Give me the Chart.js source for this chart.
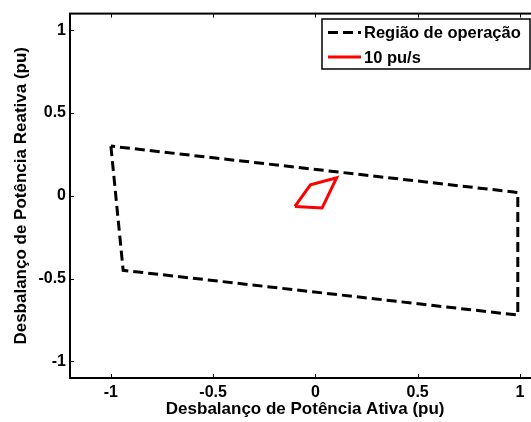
<!DOCTYPE html>
<html>
<head>
<meta charset="utf-8">
<script src="https://cdn.jsdelivr.net/npm/chart.js@4.4.1/dist/chart.umd.min.js"></script>
<style>
  html, body { margin: 0; padding: 0; background: #fff; overflow: hidden; width: 531px; height: 422px; }
  #wrap { width: 545px; height: 422px; }
</style>
</head>
<body>
<div id="wrap"><canvas id="c" width="545" height="422"></canvas></div>
<script>
// Operating region boundary (closed polygon): active / reactive power imbalance, pu
const regionP = [-1.00, -0.94, 0.99, 0.99, -1.00];
const regionQ = [ 0.30, -0.45, -0.72, 0.02, 0.30];

// 10 pu/s trajectory (closed polygon)
const rampP = [-0.100, -0.024, 0.104, 0.033, -0.100];
const rampQ = [-0.064,  0.066, 0.109, -0.074, -0.064];

const seriesNames = ['Região de operação', '10 pu/s'];

const xTicks = [-1, -0.5, 0, 0.5, 1];
const xTickLabels = ['-1', '-0.5', '0', '0.5', '1'];
const yTicks = [-1, -0.5, 0, 0.5, 1];
const yTickLabels = ['-1', '-0.5', '0', '0.5', '1'];

const xTitle = 'Desbalanço de Potência Ativa (pu)';
const yTitle = 'Desbalanço de Potência Reativa (pu)';

const FONT = '"Liberation Sans", Arial, Helvetica, sans-serif';

function toPoints(xs, ys) { return xs.map((x, i) => ({ x: x, y: ys[i] })); }

// Box around the axes with inward tick marks, plus the boxed legend
const framePlugin = {
  id: 'frame',
  afterDraw(chart) {
    const ctx = chart.ctx;
    const a = chart.chartArea;
    const xs = chart.scales.x, ys = chart.scales.y;
    const tl = 4;
    ctx.save();
    ctx.strokeStyle = '#000';
    ctx.lineWidth = 2;
    ctx.setLineDash([]);
    ctx.strokeRect(a.left, a.top, a.right - a.left, a.bottom - a.top);
    ctx.lineWidth = 1;
    ctx.beginPath();
    xTicks.forEach(v => {
      const px = Math.round(xs.getPixelForValue(v)) + 0.5;
      ctx.moveTo(px, a.bottom); ctx.lineTo(px, a.bottom - tl);
      ctx.moveTo(px, a.top); ctx.lineTo(px, a.top + tl);
    });
    yTicks.forEach(v => {
      const py = Math.round(ys.getPixelForValue(v)) + 0.5;
      ctx.moveTo(a.left, py); ctx.lineTo(a.left + tl, py);
      ctx.moveTo(a.right, py); ctx.lineTo(a.right - tl, py);
    });
    ctx.stroke();

    // legend
    const bx = 322, by = 19, bw = 208, bh = 50;
    ctx.fillStyle = '#fff';
    ctx.fillRect(bx, by, bw, bh);
    ctx.lineWidth = 1.5;
    ctx.strokeRect(bx, by, bw, bh);
    const rows = [32.5, 57];
    ctx.font = 'bold 16.5px ' + FONT;
    ctx.textBaseline = 'middle';
    ctx.textAlign = 'left';
    chart.data.datasets.forEach((ds, i) => {
      const y = rows[i];
      ctx.strokeStyle = ds.borderColor;
      ctx.lineWidth = ds.borderWidth;
      ctx.setLineDash(ds.borderDash || []);
      ctx.beginPath();
      ctx.moveTo(328, y); ctx.lineTo(361, y);
      ctx.stroke();
      ctx.setLineDash([]);
      ctx.fillStyle = '#000';
      ctx.fillText(ds.label, 364, y + 1);
    });
    ctx.restore();
  }
};

new Chart(document.getElementById('c'), {
  type: 'scatter',
  data: {
    datasets: [
      {
        label: seriesNames[0],
        data: toPoints(regionP, regionQ),
        showLine: true,
        borderColor: '#000000',
        borderWidth: 3,
        borderDash: [10, 5],
        pointRadius: 0,
        fill: false,
        tension: 0
      },
      {
        label: seriesNames[1],
        data: toPoints(rampP, rampQ),
        showLine: true,
        borderColor: '#ff0000',
        borderWidth: 3,
        pointRadius: 0,
        fill: false,
        tension: 0
      }
    ]
  },
  options: {
    responsive: false,
    animation: false,
    devicePixelRatio: 1,
    layout: { padding: { left: 0, top: 11, right: 4.7, bottom: 0 } },
    plugins: { legend: { display: false }, tooltip: { enabled: false } },
    scales: {
      x: {
        type: 'linear',
        min: -1.2, max: 1.1,
        afterBuildTicks(s) { s.ticks = xTicks.map(v => ({ value: v })); },
        afterFit(s) { s.height = 44; },
        grid: { display: false, drawTicks: false },
        border: { display: false },
        ticks: {
          padding: 5,
          color: '#000',
          font: { family: FONT, size: 16, weight: 'bold' },
          callback: (v) => xTickLabels[xTicks.indexOf(v)]
        },
        title: {
          display: true, text: xTitle, color: '#000',
          font: { family: FONT, size: 17, weight: 'bold' },
          padding: { top: 0, bottom: 2 }
        }
      },
      y: {
        type: 'linear',
        min: -1.1, max: 1.1,
        afterBuildTicks(s) { s.ticks = yTicks.map(v => ({ value: v })); },
        afterFit(s) { s.width = 70; },
        grid: { display: false, drawTicks: false },
        border: { display: false },
        ticks: {
          padding: 4,
          color: '#000',
          font: { family: FONT, size: 16, weight: 'bold' },
          callback: (v) => yTickLabels[yTicks.indexOf(v)]
        },
        title: {
          display: true, text: yTitle, color: '#000',
          font: { family: FONT, size: 17, weight: 'bold' },
          padding: { top: 11, bottom: 0 }
        }
      }
    }
  },
  plugins: [framePlugin]
});
</script>
</body>
</html>
